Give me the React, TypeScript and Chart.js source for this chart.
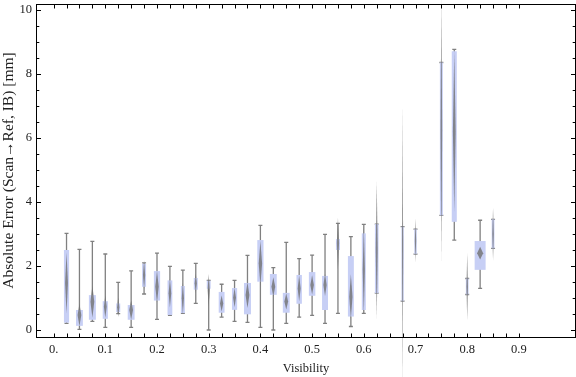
import React, { useEffect, useRef } from "react";
import { Chart, registerables } from "chart.js";

Chart.register(...registerables);

// Box centres (Visibility)
const positions = [0.025, 0.05, 0.075, 0.1, 0.125, 0.15, 0.175, 0.2, 0.225, 0.25, 0.275, 0.3, 0.325, 0.35, 0.375, 0.4, 0.425, 0.45, 0.475, 0.5, 0.525, 0.55, 0.575, 0.6, 0.625, 0.675, 0.7, 0.75, 0.775, 0.8, 0.825, 0.85];
const whiskerLow = [0.21, 0.02, 0.27, 0.08, 0.51, 0.08, 1.125, 0.33, 0.46, 0.52, 0.83, 0.0, 0.4, 0.27, 0.24, 0.08, 0.0, 0.21, 0.4, 0.46, 0.21, 0.52, 0.11, 0.52, 1.15, 0.9, 2.37, 3.58, 2.81, 1.11, 1.3, 2.55];
const quartile1 = [0.23, 0.13, 0.32, 0.35, 0.56, 0.32, 1.35, 0.92, 0.47, 0.53, 1.26, 1.29, 0.54, 0.63, 0.49, 1.51, 1.1, 0.54, 0.82, 1.07, 0.625, 2.5, 0.42, 0.625, 1.15, 0.9, 2.37, 3.58, 3.38, 1.11, 1.88, 2.55];
const quartile3 = [2.5, 0.625, 1.09, 0.9, 0.83, 0.78, 2.07, 1.84, 1.55, 1.375, 1.625, 1.54, 1.19, 1.31, 1.47, 2.81, 1.75, 1.16, 1.72, 1.81, 1.69, 2.84, 2.31, 3.02, 3.31, 3.23, 3.15, 8.36, 8.71, 1.61, 2.78, 3.46];
const whiskerHigh = [3.02, 2.52, 2.77, 2.375, 1.49, 1.85, 2.1, 2.4, 1.99, 1.87, 2.08, 1.55, 1.43, 1.55, 2.33, 3.27, 1.95, 2.74, 2.23, 2.34, 2.99, 3.33, 2.92, 3.3, 3.31, 3.23, 3.15, 8.36, 8.77, 1.61, 3.43, 3.46];
const means = [1.47, 0.47, 0.88, 0.73, 0.71, 0.625, 1.72, 1.35, 1.15, 0.99, 1.46, 1.25, 0.83, 1.01, 1.09, 2.08, 1.35, 0.89, 1.3, 1.41, 1.41, 2.71, 1.04, 1.875, 2.5, 2.6, 2.8, 6.25, 6.2, 1.36, 2.4, 3.0];
const meanCI = [0.95, 0.35, 0.5, 0.35, 0.3, 0.3, 0.45, 0.5, 0.45, 0.5, 0.3, 0.5, 0.25, 0.3, 0.4, 0.7, 0.3, 0.25, 0.4, 0.3, 0.35, 0.8, 0.7, 1.4, 2.15, 4.45, 0.7, 4.12, 2.5, 1.05, 0.2, 0.83];
// relative box widths (fraction of a 0.025 slot)
const boxWeights = [0.40, 0.53, 0.54, 0.40, 0.31, 0.53, 0.31, 0.48, 0.37, 0.31, 0.31, 0.30, 0.45, 0.40, 0.54, 0.48, 0.53, 0.53, 0.42, 0.50, 0.46, 0.31, 0.46, 0.31, 0.28, 0.16, 0.18, 0.23, 0.39, 0.21, 0.85, 0.21];

const xTickValues = [0, 0.1, 0.2, 0.3, 0.4, 0.5, 0.6, 0.7, 0.8, 0.9];
const yTickValues = [0, 2, 4, 6, 8, 10];
const xMinorStep = 0.025;
const yMinorStep = 0.5;

const FONT = "'Liberation Serif', 'Times New Roman', serif";
const BOX_COLOR = "rgb(199, 207, 245)";
const WHISKER_COLOR = "rgb(128, 128, 128)";
const DIAMOND_COLOR = "rgba(112, 112, 112, 0.8)";

const boxPlugin = {
  id: "boxWhisker",
  afterDatasetsDraw(chart: any) {
    const { ctx } = chart;
    const xs = chart.scales.x;
    const ys = chart.scales.y;
    const slot = Math.abs(xs.getPixelForValue(xMinorStep) - xs.getPixelForValue(0));
    ctx.save();
    positions.forEach((p, i) => {
      const cx = xs.getPixelForValue(p);
      const w = boxWeights[i] * slot;
      const yLo = ys.getPixelForValue(whiskerLow[i]);
      const yHi = ys.getPixelForValue(whiskerHigh[i]);
      const yQ1 = ys.getPixelForValue(quartile1[i]);
      const yQ3 = ys.getPixelForValue(quartile3[i]);
      // whisker
      ctx.strokeStyle = WHISKER_COLOR;
      ctx.lineWidth = 1.3;
      ctx.beginPath();
      ctx.moveTo(cx, yHi);
      ctx.lineTo(cx, yLo);
      ctx.moveTo(cx - 2, yHi);
      ctx.lineTo(cx + 2, yHi);
      ctx.moveTo(cx - 2, yLo);
      ctx.lineTo(cx + 2, yLo);
      ctx.stroke();
      // box
      ctx.fillStyle = BOX_COLOR;
      ctx.fillRect(cx - w / 2, yQ3, w, Math.max(yQ1 - yQ3, 1));
      // mean diamond
      const dw = Math.max(w * 0.55, 1);
      const yTop = ys.getPixelForValue(means[i] + meanCI[i]);
      const yBot = ys.getPixelForValue(means[i] - meanCI[i]);
      const yMid = ys.getPixelForValue(means[i]);
      ctx.fillStyle = DIAMOND_COLOR;
      ctx.beginPath();
      ctx.moveTo(cx, yTop);
      ctx.lineTo(cx + dw / 2, yMid);
      ctx.lineTo(cx, yBot);
      ctx.lineTo(cx - dw / 2, yMid);
      ctx.closePath();
      ctx.fill();
    });
    ctx.restore();
  },
};

const framePlugin = {
  id: "frame",
  afterDraw(chart: any) {
    const { ctx, chartArea } = chart;
    const xs = chart.scales.x;
    const ys = chart.scales.y;
    const L = chartArea.left - 0.5;
    const R = chartArea.right + 0.5;
    const T = chartArea.top + 0.5;
    const B = chartArea.bottom + 0.5;
    ctx.save();
    ctx.strokeStyle = "#000";
    ctx.lineWidth = 1;
    ctx.beginPath();
    const xMax = xTickValues[xTickValues.length - 1];
    for (let k = 0; k * xMinorStep <= xMax + 1e-9; k++) {
      const px = Math.round(xs.getPixelForValue(k * xMinorStep)) + 0.5;
      ctx.moveTo(px, B);
      ctx.lineTo(px, B - 4);
      ctx.moveTo(px, T);
      ctx.lineTo(px, T + 4);
    }
    const yMax = yTickValues[yTickValues.length - 1];
    for (let k = 0; k * yMinorStep <= yMax + 1e-9; k++) {
      const v = k * yMinorStep;
      const py = Math.round(ys.getPixelForValue(v)) + 0.5;
      const major = yTickValues.includes(v);
      const len = major ? 4.5 : 2.8;
      ctx.moveTo(L, py);
      ctx.lineTo(L + len, py);
      ctx.moveTo(R, py);
      ctx.lineTo(R - len, py);
    }
    ctx.stroke();
    ctx.strokeRect(L, T, R - L, B - T);
    ctx.restore();
  },
};

export default function App() {
  const ref = useRef<HTMLCanvasElement>(null);
  useEffect(() => {
    document.body.style.margin = "0";
    const canvas = ref.current;
    if (!canvas) return;
    const chart = new Chart(canvas, {
      type: "scatter",
      data: {
        datasets: [
          {
            label: "mean",
            data: positions.map((p, i) => ({ x: p, y: means[i] })),
            pointRadius: 0,
            pointHoverRadius: 0,
            showLine: false,
          },
        ],
      },
      options: {
        animation: false,
        responsive: false,
        devicePixelRatio: 1,
        layout: { padding: { top: 4, right: 1, left: 0, bottom: 0 } },
        plugins: { legend: { display: false }, tooltip: { enabled: false } },
        scales: {
          x: {
            type: "linear",
            min: -0.0321,
            max: 1.0085,
            afterBuildTicks: (scale: any) => {
              scale.ticks = xTickValues.map((v) => ({ value: v }));
            },
            afterFit: (scale: any) => {
              scale.height = 40;
              scale.paddingLeft = 0;
              scale.paddingRight = 0;
              scale.paddingTop = 0;
              scale.paddingBottom = 0;
            },
            grid: { display: false, drawTicks: false },
            border: { display: false },
            ticks: {
              autoSkip: false,
              maxRotation: 0,
              padding: 5,
              color: "#222",
              font: { family: FONT, size: 12.5 },
              callback: (v: any) => (Number(v) === 0 ? "0." : Number(v).toFixed(1)),
            },
            title: {
              display: true,
              text: "Visibility",
              color: "#222",
              font: { family: FONT, size: 12.5 },
              padding: { top: 0, bottom: 1 },
            },
          },
          y: {
            type: "linear",
            min: -0.21875,
            max: 10.1875,
            afterBuildTicks: (scale: any) => {
              scale.ticks = yTickValues.map((v) => ({ value: v }));
            },
            afterFit: (scale: any) => {
              scale.width = 37;
              scale.paddingLeft = 0;
              scale.paddingRight = 0;
              scale.paddingTop = 0;
              scale.paddingBottom = 0;
            },
            grid: { display: false, drawTicks: false },
            border: { display: false },
            ticks: {
              autoSkip: false,
              padding: 5,
              color: "#222",
              font: { family: FONT, size: 12.5 },
              callback: (v: any) => String(v),
            },
            title: {
              display: true,
              text: "Absolute Error (Scan\u2192Ref, IB) [mm]",
              color: "#222",
              font: { family: FONT, size: 15.5 },
              padding: { top: 0, bottom: 0 },
            },
          },
        },
      },
      plugins: [boxPlugin, framePlugin],
    });
    return () => chart.destroy();
  }, []);
  return (
    <div style={{ width: 576, height: 377, position: "relative" }}>
      <canvas ref={ref} width={576} height={377} style={{ display: "block", width: 576, height: 377 }} />
    </div>
  );
}
